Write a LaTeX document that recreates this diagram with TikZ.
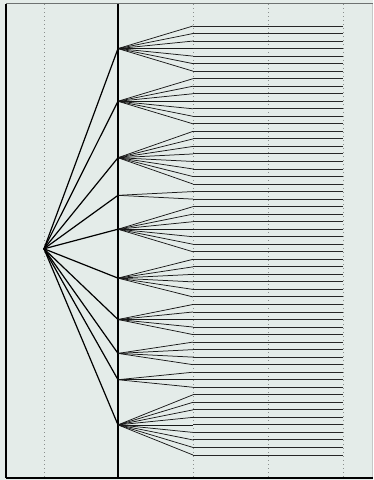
\documentclass[tikz,border=0pt]{standalone}
\definecolor{bgc}{HTML}{E4ECE9}
\definecolor{guide}{HTML}{8A8F8D}
\begin{document}
\begin{tikzpicture}[x=1pt,y=-1pt,
  rootedge/.style={line width=1.2pt,black,line cap=round},
  leafedge/.style={line width=0.75pt,black!90},
  leafline/.style={line width=0.9pt,black!85},
  guideline/.style={guide,line width=0.7pt,dash pattern=on 1pt off 3pt},
  spine/.style={black,line width=1.1pt}]
\fill[bgc] (0,0) rectangle (373,480);
\useasboundingbox (0,0) rectangle (373,480);
% guides
\foreach \gx/\gn in {44/ga,193/gb,268/gc,343/gd} {
  \coordinate (\gn top) at (\gx,4);
  \coordinate (\gn bot) at (\gx,478);
  \draw[guideline] (\gn top) -- (\gn bot);
}
% frame
\coordinate (ftl) at (6,3.8);
\coordinate (ftr) at (372.5,3.8);
\coordinate (fbl) at (6,478);
\coordinate (fbr) at (372.5,478);
\draw[guide!80!black,line width=1.1pt] (ftl) -- (ftr);
\draw[guide!50,line width=0.6pt] (ftr) -- (fbr);
\draw[spine] (ftl) -- (fbl);
\draw[spine] (fbl) -- (fbr);
\coordinate (mtop) at (118,3.8);
\coordinate (mbot) at (118,478);
\draw[spine] (mtop) -- (mbot);
% leaves
\foreach \i in {0,...,57} {
  \coordinate (l\i) at (193,{26+7.526*\i});
  \coordinate (e\i) at (343,{26+7.526*\i});
  \draw[leafline] (l\i) -- (e\i);
}
% root
\coordinate (r) at (44,248.8);
% level-1 nodes and their edges
\foreach \k/\s/\e in {1/0/6,2/7/13,3/14/21,4/22/23,5/24/30,6/31/36,7/37/41,8/42/45,9/46/48,10/49/57} {
  \coordinate (a\k) at (118,{26+7.526*(\s+\e)/2});
  \foreach \j in {\s,...,\e} \draw[leafedge] (a\k) -- (l\j);
  \draw[rootedge] (r) -- (a\k);
}
\end{tikzpicture}
\end{document}
